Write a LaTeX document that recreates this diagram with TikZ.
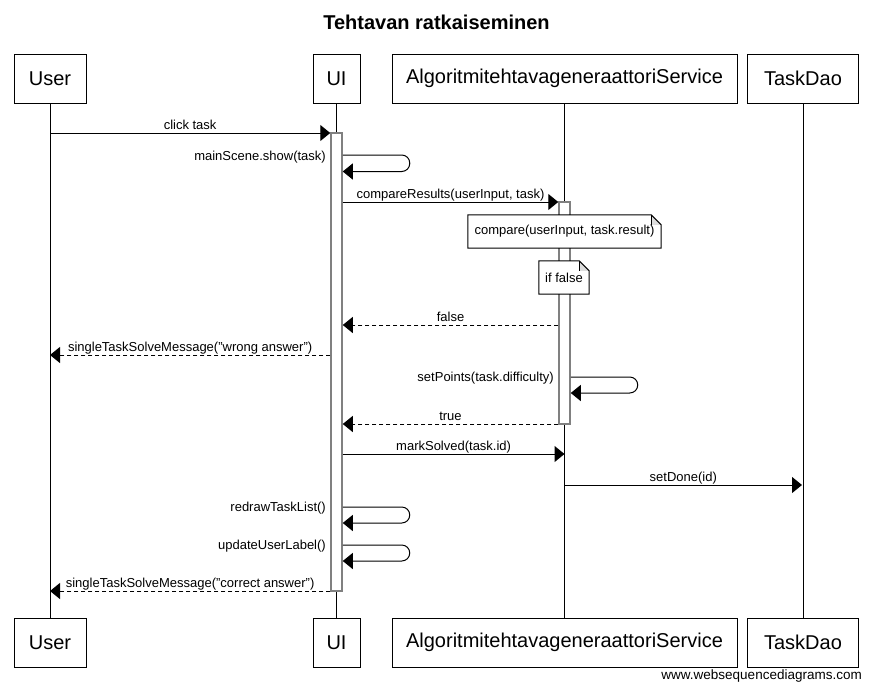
\documentclass[tikz,border=0pt]{standalone}
\usepackage{fontspec}
\setmainfont{Liberation Sans}
\usetikzlibrary{arrows.meta,calc}
\definecolor{actgray}{RGB}{128,128,128}
\definecolor{foldgray}{RGB}{221,221,221}
\newcommand{\dq}{\symbol{34}}
\begin{document}
\begin{tikzpicture}[x=1pt,y=-1pt,
  part/.style={draw,line width=1pt,fill=white,minimum height=49pt,inner sep=0pt,font=\fontsize{20}{24}\selectfont},
  life/.style={line width=1pt},
  act/.style={draw=actgray,line width=1.5pt,fill=white,minimum width=11pt,inner sep=0pt},
  msg/.style={line width=1pt,-{Triangle[length=10pt,width=16pt]}},
  ret/.style={msg,dash pattern=on 4pt off 3pt},
  lbl/.style={font=\fontsize{13}{15}\selectfont,anchor=base,inner sep=0pt,yshift=3.5pt},
  slbl/.style={font=\fontsize{13}{15}\selectfont,anchor=base east,inner sep=0pt},
  notebox/.style={font=\fontsize{13}{15}\selectfont,inner sep=0pt,minimum height=33pt,fill=white},
  noteline/.style={line width=1pt},
]
\useasboundingbox (0,0) rectangle (872,691);
\fill[white] (0,0) rectangle (872,691);

% title
\node[font=\bfseries\fontsize{20}{24}\selectfont] (title) at (436.5,22) {Tehtavan ratkaiseminen};

% participants
\node[part,minimum width=72pt] (uT) at (50,78.5) {User};
\node[part,minimum width=47pt] (iT) at (336.5,78.5) {UI};
\node[part,minimum width=345pt] (aT) at (564.5,78.5) {AlgoritmitehtavageneraattoriService};
\node[part,minimum width=111pt] (tT) at (803,78.5) {TaskDao};
\node[part,minimum width=72pt] (uB) at (50,642.5) {User};
\node[part,minimum width=47pt] (iB) at (336.5,642.5) {UI};
\node[part,minimum width=345pt] (aB) at (564.5,642.5) {AlgoritmitehtavageneraattoriService};
\node[part,minimum width=111pt] (tB) at (803,642.5) {TaskDao};

% lifelines
\draw[life] (uT) -- (uB);
\draw[life] (iT) -- (iB);
\draw[life] (aT) -- (aB);
\draw[life] (tT) -- (tB);

% activations
\node[act,minimum height=458pt] (actI) at (336.5,362) {};
\node[act,minimum height=222pt] (actA) at (564.5,313) {};

% notes
\node[notebox,minimum width=193pt] (n1) at (564.5,231.5) {compare(userInput, task.result)};
\fill[white] ($(n1.north east)+(-10,0)$) -- (n1.north east) -- ($(n1.north east)+(0,10)$) -- cycle;
\fill[foldgray] ($(n1.north east)+(-10,0)$) -- ($(n1.north east)+(-10,10)$) -- ($(n1.north east)+(0,10)$) -- cycle;
\draw[noteline] (n1.north west) -- ($(n1.north east)+(-10,0)$) -- ($(n1.north east)+(0,10)$) -- (n1.south east) -- (n1.south west) -- cycle;
\draw[noteline] ($(n1.north east)+(-10,0)$) -- ($(n1.north east)+(-10,10)$);

\node[notebox,minimum width=50pt] (n2) at (564,277.5) {if false};
\fill[white] ($(n2.north east)+(-10,0)$) -- (n2.north east) -- ($(n2.north east)+(0,10)$) -- cycle;
\fill[foldgray] ($(n2.north east)+(-10,0)$) -- ($(n2.north east)+(-10,10)$) -- ($(n2.north east)+(0,10)$) -- cycle;
\draw[noteline] (n2.north west) -- ($(n2.north east)+(-10,0)$) -- ($(n2.north east)+(0,10)$) -- (n2.south east) -- (n2.south west) -- cycle;
\draw[noteline] ($(n2.north east)+(-10,0)$) -- ($(n2.north east)+(-10,10)$);

% message rows
\coordinate (y1) at (0,133);
\coordinate (y2) at (0,155);
\coordinate (y2b) at (0,171.5);
\coordinate (y3) at (0,202);
\coordinate (y4) at (0,325);
\coordinate (y5) at (0,355);
\coordinate (y6) at (0,377);
\coordinate (y6b) at (0,393);
\coordinate (y7) at (0,424);
\coordinate (y8) at (0,454);
\coordinate (y9) at (0,485);
\coordinate (y10) at (0,507);
\coordinate (y10b) at (0,523);
\coordinate (y11) at (0,545);
\coordinate (y11b) at (0,561);
\coordinate (y12) at (0,591);

% messages
\draw[msg] (uT.south |- y1) -- node[lbl] {click task} (actI.west |- y1);
\draw[msg,rounded corners=8pt] (actI.east |- y2) -- ++(67,0) -- ++(0,16.5) -- (actI.east |- y2b);
\node[slbl] (l2) at (326,160) {mainScene.show(task)};
\draw[msg] (actI.east |- y3) -- node[lbl] {compareResults(userInput, task)} (actA.west |- y3);
\draw[ret] (actA.west |- y4) -- node[lbl] {false} (actI.east |- y4);
\draw[ret] (actI.west |- y5) -- node[lbl] {singleTaskSolveMessage(\dq wrong answer\dq)} (uT.south |- y5);
\draw[msg,rounded corners=8pt] (actA.east |- y6) -- ++(67,0) -- ++(0,16) -- (actA.east |- y6b);
\node[slbl] (l6) at (554,381.5) {setPoints(task.difficulty)};
\draw[ret] (actA.west |- y7) -- node[lbl] {true} (actI.east |- y7);
\draw[msg] (actI.east |- y8) -- node[lbl] {markSolved(task.id)} (aT.south |- y8);
\draw[msg] (aT.south |- y9) -- node[lbl] {setDone(id)} ($(tT.south |- y9)+(-1,0)$);
\draw[msg,rounded corners=8pt] (actI.east |- y10) -- ++(67,0) -- ++(0,16) -- (actI.east |- y10b);
\node[slbl] (l10) at (326,511.5) {redrawTaskList()};
\draw[msg,rounded corners=8pt] (actI.east |- y11) -- ++(67,0) -- ++(0,16) -- (actI.east |- y11b);
\node[slbl] (l11) at (326,549.5) {updateUserLabel()};
\draw[ret] (actI.west |- y12) -- node[lbl] {singleTaskSolveMessage(\dq correct answer\dq)} (uT.south |- y12);

% watermark
\node[font=\fontsize{13.5}{16}\selectfont,anchor=east,inner sep=0pt] (wm) at (862,676) {www.websequencediagrams.com};
\end{tikzpicture}
\end{document}
